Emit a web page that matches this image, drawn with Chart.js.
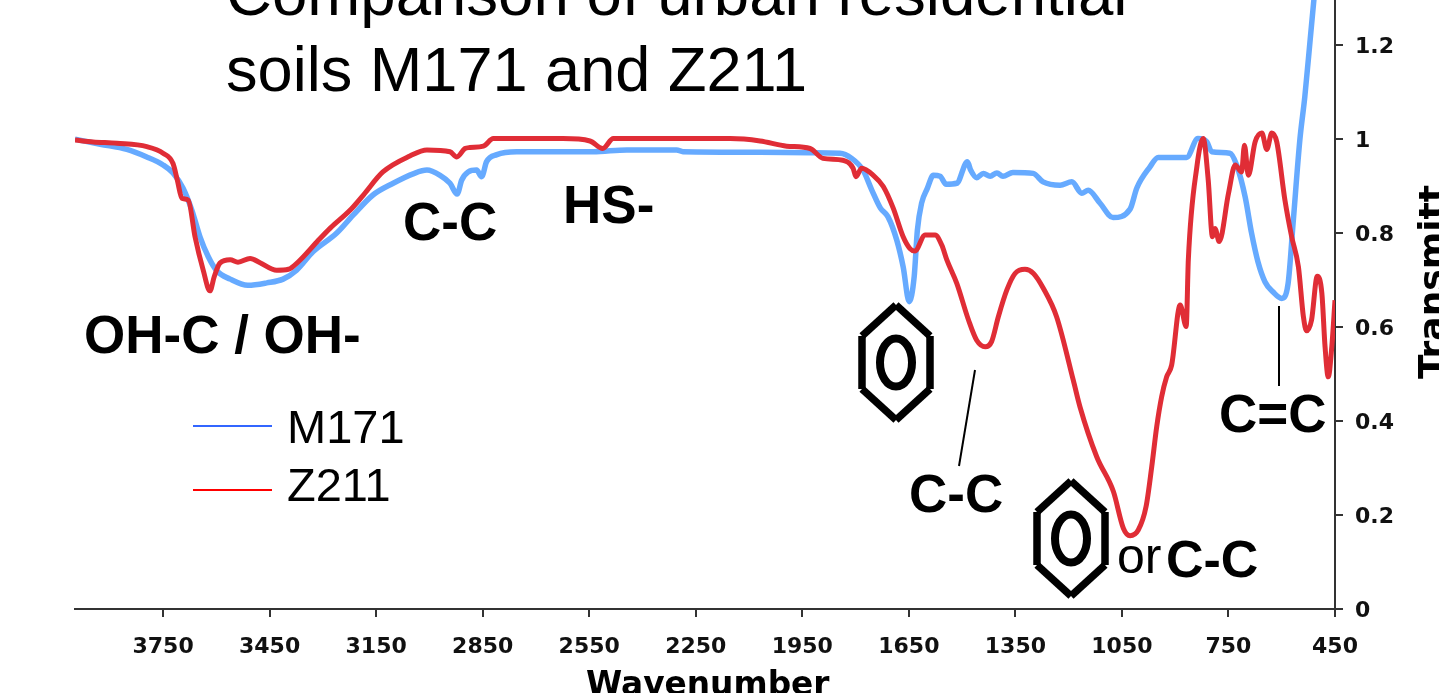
<!DOCTYPE html>
<html>
<head>
<meta charset="utf-8">
<title>Comparison of urban residential soils M171 and Z211</title>
<script src="https://cdn.jsdelivr.net/npm/chart.js@4/dist/chart.umd.js"></script>
<style>
  html, body { margin: 0; padding: 0; background: #fff; overflow: hidden; }
  canvas { display: block; }
</style>
</head>
<body>
<canvas id="ftir" width="1439" height="693"></canvas>
<script>
// ─── Data ─────────────────────────────────────────────────────
const xTicks = [3750, 3450, 3150, 2850, 2550, 2250, 1950, 1650, 1350, 1050, 750, 450];
const yTicks = [0, 0.2, 0.4, 0.6, 0.8, 1, 1.2];

const m171Wave = [
  3998, 3927, 3852, 3796, 3750, 3722, 3694, 3669, 3646, 3623, 3599, 3561, 3511, 3458, 3412, 3374,
  3328, 3261, 3215, 3159, 3102, 3046, 3007, 2970, 2942, 2922, 2909, 2891, 2867, 2853, 2839, 2810,
  2754, 2539, 2444, 2304, 2286, 2069, 1928, 1844, 1811, 1779, 1754, 1730, 1709, 1684, 1666, 1649,
  1635, 1626, 1614, 1598, 1581, 1562, 1545, 1515, 1485, 1476, 1459, 1440, 1421, 1402, 1385, 1357,
  1300, 1272, 1224, 1191, 1163, 1145, 1112, 1075, 1027, 1008, 971, 948, 868, 836, 811, 797,
  746, 727, 703, 685, 667, 647, 625, 600, 582, 568, 549, 535, 520, 509,
];
const m171Trans = [
  1.0, 0.989, 0.978, 0.962, 0.945, 0.928, 0.896, 0.849, 0.792, 0.75, 0.72, 0.702, 0.689, 0.694, 0.702, 0.721,
  0.76, 0.8, 0.838, 0.881, 0.906, 0.926, 0.934, 0.923, 0.906, 0.883, 0.913, 0.93, 0.934, 0.92, 0.952, 0.967,
  0.973, 0.973, 0.977, 0.977, 0.973, 0.972, 0.971, 0.97, 0.959, 0.934, 0.891, 0.853, 0.835, 0.785, 0.728, 0.654,
  0.707, 0.806, 0.864, 0.895, 0.923, 0.921, 0.904, 0.906, 0.952, 0.934, 0.918, 0.927, 0.921, 0.928, 0.921, 0.929,
  0.927, 0.909, 0.902, 0.909, 0.885, 0.891, 0.864, 0.833, 0.851, 0.896, 0.941, 0.961, 0.961, 1.001, 0.994, 0.973,
  0.97, 0.945, 0.877, 0.8, 0.739, 0.696, 0.675, 0.661, 0.693, 0.821, 0.998, 1.09, 1.211, 1.3,
];

const z211Wave = [
  3998, 3947, 3880, 3796, 3750, 3722, 3710, 3697, 3679, 3660, 3637, 3618, 3606, 3590, 3561, 3539,
  3505, 3477, 3430, 3397, 3369, 3317, 3280, 3223, 3186, 3131, 3055, 3007, 2942, 2923, 2900, 2886,
  2848, 2820, 2624, 2548, 2512, 2482, 2153, 2069, 1994, 1928, 1892, 1836, 1807, 1799, 1783, 1750,
  1722, 1694, 1666, 1647, 1633, 1604, 1576, 1557, 1543, 1515, 1482, 1459, 1435, 1417, 1398, 1374,
  1351, 1323, 1299, 1271, 1234, 1187, 1168, 1121, 1074, 1046, 1027, 1004, 982, 966, 952, 938,
  924, 910, 886, 869, 863, 839, 821, 807, 795, 788, 776, 750, 731, 713, 705, 694,
  675, 656, 642, 628, 614, 591, 572, 553, 539, 530, 516, 500, 487, 478, 469, 459, 450,
];
const z211Trans = [
  0.998, 0.994, 0.991, 0.984, 0.97, 0.948, 0.913, 0.874, 0.87, 0.792, 0.721, 0.677, 0.707, 0.736, 0.743, 0.738,
  0.746, 0.737, 0.721, 0.723, 0.739, 0.781, 0.81, 0.849, 0.881, 0.93, 0.964, 0.977, 0.973, 0.962, 0.98, 0.982,
  0.985, 1.001, 1.001, 0.996, 0.98, 1.001, 1.001, 0.996, 0.985, 0.98, 0.959, 0.955, 0.938, 0.92, 0.938, 0.923,
  0.899, 0.853, 0.792, 0.767, 0.762, 0.796, 0.796, 0.774, 0.743, 0.693, 0.615, 0.572, 0.558, 0.569, 0.622, 0.679,
  0.714, 0.723, 0.714, 0.682, 0.622, 0.487, 0.43, 0.324, 0.25, 0.172, 0.156, 0.168, 0.218, 0.303, 0.388, 0.452,
  0.494, 0.519, 0.647, 0.601, 0.743, 0.941, 1.001, 0.913, 0.792, 0.81, 0.782, 0.884, 0.945, 0.93, 0.987, 0.923,
  0.994, 1.013, 0.978, 1.013, 0.994, 0.87, 0.792, 0.728, 0.622, 0.592, 0.615, 0.708, 0.672, 0.558, 0.494, 0.558, 0.657,
];

const SANS = '"Liberation Sans", Arial, sans-serif';
const AXIS_FONT = '"DejaVu Sans", Verdana, sans-serif';
const AXIS_COLOR = '#333333';

// ─── Slide overlay: title, band labels, legend, ring symbols ──
function drawText(ctx, text, x, y, font) {
  ctx.font = font;
  ctx.fillText(text, x, y);
}

function drawSegment(ctx, x1, y1, x2, y2, width) {
  ctx.lineWidth = width;
  ctx.beginPath();
  ctx.moveTo(x1, y1);
  ctx.lineTo(x2, y2);
  ctx.stroke();
}

function drawRing(ctx, cx, top, bottom) {
  const halfW = 34;
  const shoulder = 31;
  const corners = [
    [cx, top], [cx + halfW, top + shoulder], [cx + halfW, bottom - shoulder],
    [cx, bottom], [cx - halfW, bottom - shoulder], [cx - halfW, top + shoulder],
  ];
  ctx.strokeStyle = '#000';
  ctx.lineCap = 'butt';
  corners.forEach((c, i) => {
    const n = corners[(i + 1) % 6];
    drawSegment(ctx, c[0], c[1], n[0], n[1], 7.5);
  });
  ctx.lineWidth = 8;
  ctx.beginPath();
  ctx.ellipse(cx, (top + bottom) / 2, 16, 24, 0, 0, Math.PI * 2);
  ctx.stroke();
}

const overlay = {
  id: 'overlay',
  afterDraw(chart) {
    const ctx = chart.ctx;
    const [m171, z211] = chart.data.datasets;
    ctx.save();
    ctx.fillStyle = '#000';
    ctx.textAlign = 'left';
    ctx.textBaseline = 'alphabetic';

    drawText(ctx, 'Comparison of urban residential', 226, 15, `63.6px ${SANS}`);
    drawText(ctx, 'soils M171 and Z211', 226, 91, `63.1px ${SANS}`);

    const bold = `bold 53px ${SANS}`;
    drawText(ctx, 'OH-C / OH-', 84, 353, bold);
    drawText(ctx, 'C-C', 403, 240, bold);
    drawText(ctx, 'HS-', 563, 223, bold);
    drawText(ctx, 'C-C', 909, 512, bold);
    drawText(ctx, 'C=C', 1219, 432, bold);
    drawText(ctx, 'or', 1117, 573, `50px ${SANS}`);
    drawText(ctx, 'C-C', 1166, 577, `bold 52px ${SANS}`);

    // Legend
    ctx.lineCap = 'butt';
    ctx.strokeStyle = '#3366ff';
    drawSegment(ctx, 193, 426, 272, 426, 2);
    ctx.strokeStyle = '#ff0000';
    drawSegment(ctx, 193, 490, 272, 490, 2);
    drawText(ctx, m171.label, 287, 443, `47px ${SANS}`);
    drawText(ctx, z211.label, 287, 501, `47px ${SANS}`);

    // Leader lines
    ctx.strokeStyle = '#000';
    drawSegment(ctx, 975, 370, 959, 466, 2);
    drawSegment(ctx, 1279, 306, 1279, 386, 2);

    drawRing(ctx, 896, 305, 420);
    drawRing(ctx, 1071, 481, 596);

    // Axis titles run off the page, as they do on the slide
    drawText(ctx, 'Wavenumber', 586, 695, `bold 32.8px ${AXIS_FONT}`);
    ctx.translate(1444, 379);
    ctx.rotate(-Math.PI / 2);
    drawText(ctx, 'Transmitt', 0, 0, `bold 36px ${AXIS_FONT}`);
    ctx.restore();
  }
};

// ─── Chart ────────────────────────────────────────────────────
new Chart(document.getElementById('ftir'), {
  type: 'line',
  data: {
    datasets: [
      {
        label: 'M171',
        data: m171Wave.map((x, i) => ({ x, y: m171Trans[i] })),
        borderColor: '#66aaff',
        borderWidth: 5.5,
        pointRadius: 0,
        cubicInterpolationMode: 'monotone',
        order: 2,
      },
      {
        label: 'Z211',
        data: z211Wave.map((x, i) => ({ x, y: z211Trans[i] })),
        borderColor: '#e02d36',
        borderWidth: 5,
        pointRadius: 0,
        cubicInterpolationMode: 'monotone',
        order: 1,
      },
    ]
  },
  options: {
    responsive: false,
    animation: false,
    layout: { padding: { left: 75, right: 0, top: 0, bottom: 0 } },
    plugins: { legend: { display: false }, tooltip: { enabled: false } },
    scales: {
      x: {
        type: 'linear',
        reverse: true,
        min: 450,
        max: 3998,
        border: { color: AXIS_COLOR, width: 2 },
        grid: { drawOnChartArea: false, color: AXIS_COLOR, lineWidth: 2, tickLength: 8 },
        ticks: {
          color: '#111',
          font: { family: AXIS_FONT, size: 22, weight: 'bold' },
          padding: 17,
          maxRotation: 0,
          autoSkip: false,
          callback: v => String(v),
        },
        afterBuildTicks: axis => { axis.ticks = xTicks.map(value => ({ value })); },
        afterFit: axis => { axis.height = 84; axis.paddingLeft = 0; axis.paddingRight = 0; },
      },
      y: {
        position: 'right',
        min: 0,
        max: 1.296,
        border: { color: AXIS_COLOR, width: 2 },
        grid: { drawOnChartArea: false, color: AXIS_COLOR, lineWidth: 2, tickLength: 8 },
        ticks: {
          color: '#111',
          font: { family: AXIS_FONT, size: 22, weight: 'bold' },
          padding: 12,
          labelOffset: 2,
          callback: v => String(v),
        },
        afterBuildTicks: axis => { axis.ticks = yTicks.map(value => ({ value })); },
        afterFit: axis => { axis.width = 104; axis.paddingTop = 0; axis.paddingBottom = 0; },
      },
    }
  },
  plugins: [overlay],
});
</script>
</body>
</html>
